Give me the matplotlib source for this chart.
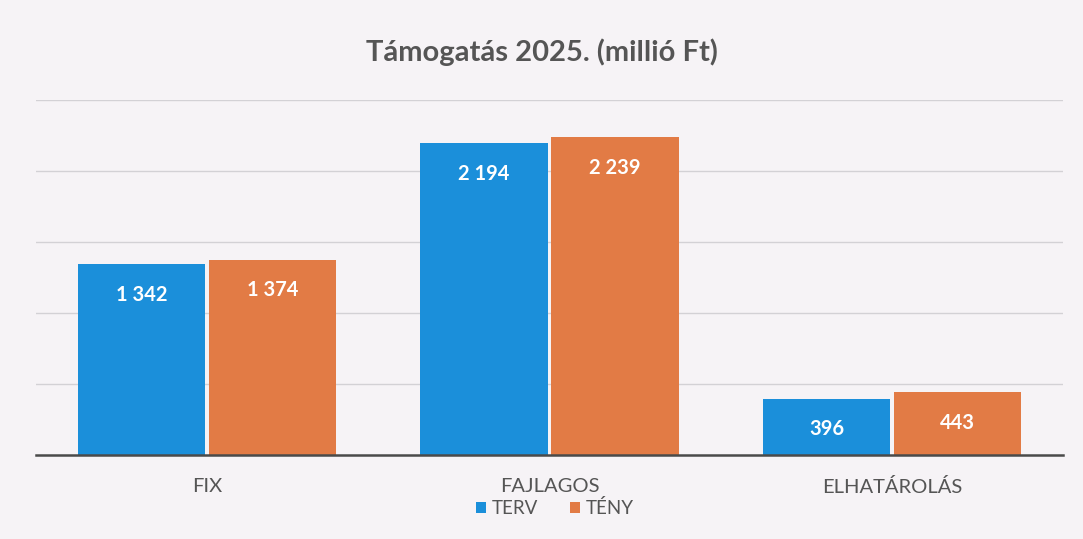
import matplotlib
matplotlib.use("Agg")
import matplotlib.pyplot as plt
import numpy as np

categories = ["FIX", "FAJLAGOS", "ELHATÁROLÁS"]
series_names = ["TERV", "TÉNY"]
terv = [1342, 2194, 396]
teny = [1374, 2239, 443]
labels_terv = ["1 342", "2 194", "396"]
labels_teny = ["1 374", "2 239", "443"]

plt.rcParams['font.family'] = ['Lato', 'DejaVu Sans']

bg = "#f6f3f6"
blue = "#1b8fda"
orange = "#e27b45"

fig = plt.figure(figsize=(10.83, 5.39), dpi=100, facecolor=bg)
ax = fig.add_axes([36/1083, 1-455/539, (1063-36)/1083, (455-100)/539], facecolor=bg)

x = np.arange(len(categories))
w = 0.372
gap = 0.005
b1 = ax.bar(x - w/2 - gap, terv, w, color=blue, label=series_names[0], zorder=3)
b2 = ax.bar(x + w/2 + gap, teny, w, color=orange, label=series_names[1], zorder=3)

for bars, labs in ((b1, labels_terv), (b2, labels_teny)):
    for r, lab in zip(bars, labs):
        ax.annotate(lab, (r.get_x() + r.get_width()/2, r.get_height()),
                    xytext=(0, -22), textcoords="offset points",
                    ha="center", va="center", color="white",
                    fontsize=14.5, fontweight="bold", zorder=4)

ax.set_xlim(-0.5, 2.5)
ax.set_ylim(0, 2500)
ax.set_yticks([500, 1000, 1500, 2000, 2500])
ax.yaxis.grid(True, color="#d3d1d5", linewidth=1.0, zorder=0)
ax.tick_params(axis="y", left=False, labelleft=False)
ax.tick_params(axis="x", bottom=False, labelsize=14.5, labelcolor="#555555", pad=13)
ax.set_xticks(x)
ax.set_xticklabels(categories)
for s in ["top", "right", "left"]:
    ax.spines[s].set_visible(False)
ax.spines["bottom"].set_color("#4a4a4a")
ax.spines["bottom"].set_linewidth(1.8)
ax.spines["bottom"].set_zorder(5)

fig.text(0.5, 1-52/539, "Támogatás 2025. (millió Ft)", ha="center", va="center",
         fontsize=21, fontweight="bold", color="#555555")

leg = fig.legend(handles=[b1, b2], labels=series_names, loc="center",
                 bbox_to_anchor=(555/1083, 1-508/539), ncol=2, frameon=False,
                 fontsize=13.5, handlelength=0.55, handleheight=0.55,
                 handletextpad=0.3, columnspacing=1.7)
for t in leg.get_texts():
    t.set_color("#555555")

fig.savefig("out.png", dpi=100, facecolor=bg)
